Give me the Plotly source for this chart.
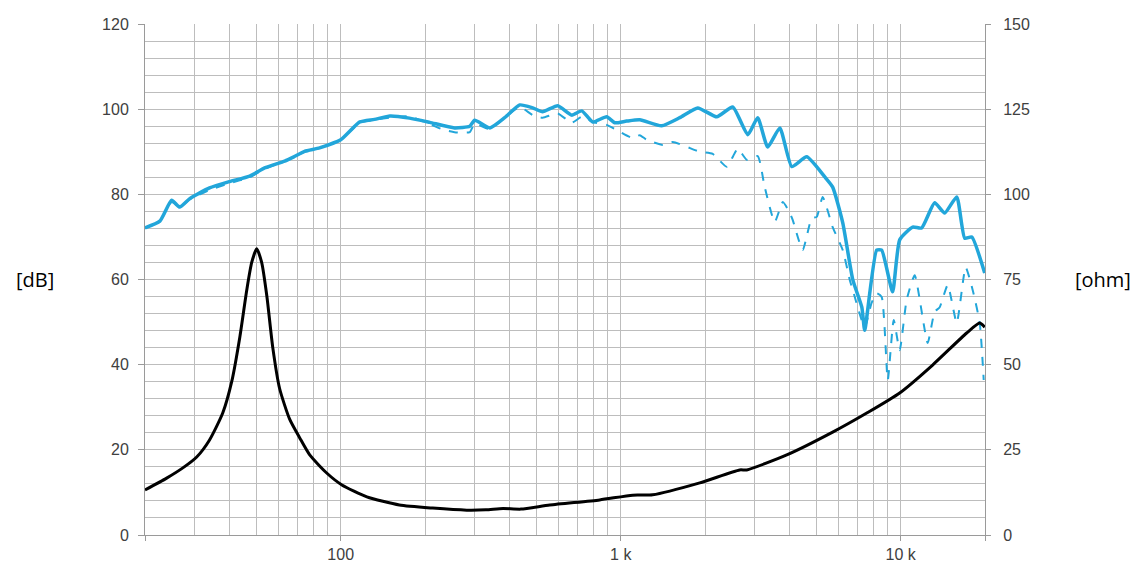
import plotly.graph_objects as go

# ---- data ----
spl_freq = [20, 22.6, 24.9, 26.6, 28.9, 34, 40.1, 47.3, 53.5, 63.1, 68, 74.3, 84.1, 100, 117, 132,
            150, 176, 208, 255, 289, 301, 341, 385, 436, 485, 526, 596, 668, 726, 794, 891, 952,
            1050, 1170, 1400, 1625, 1884, 2203, 2512, 2844, 3085, 3350, 3700, 4083, 4616, 5355,
            5715, 6209, 6745, 7262, 7436, 8204, 8551, 9354, 9915, 11030, 11880, 13220, 14350,
            15850, 16930, 17940, 19950]
spl_db = [72.1, 73.7, 78.6, 77.0, 79.0, 81.5, 83.0, 84.3, 86.2, 87.8, 88.8, 90.1, 90.9, 92.8, 97.0, 97.6,
          98.4, 97.9, 96.9, 95.6, 96.0, 97.4, 95.6, 98.0, 101.0, 100.3, 99.4, 100.8, 98.6, 99.6, 97.0,
          98.2, 96.8, 97.2, 97.5, 96.1, 98.0, 100.3, 98.2, 100.5, 94.0, 98.0, 91.1, 95.6, 86.5,
          88.8, 84.1, 81.7, 73.3, 59.9, 53.5, 48.1, 66.9, 66.9, 57.1, 69.3, 72.3, 72.1, 78.0,
          75.6, 79.4, 69.7, 70.0, 61.5]

off_freq = [20, 22.6, 24.9, 26.6, 28.9, 34, 40.1, 47.3, 53.5, 63.1, 68, 74.3, 84.1, 100, 117, 132,
            150, 176, 208, 230, 255, 289, 301, 341, 385, 436, 485, 526, 596, 668, 726, 794, 891,
            968, 1104, 1170, 1239, 1413, 1535, 1916, 2131, 2391, 2619, 2820, 3085, 3268, 3548,
            3793, 4018, 4113, 4467, 4810, 5012, 5265, 5715, 6209, 6577, 6745, 7436, 7870, 8204,
            8551, 8990, 9441, 9915, 10500, 11220, 12480, 13220, 13780, 14720, 15850, 17060,
            18080, 19150, 19790]
off_db = [72.1, 73.7, 78.2, 77.0, 78.8, 81.0, 82.6, 84.0, 86.0, 87.8, 88.8, 90.0, 90.9, 92.8, 96.8, 97.5,
          98.0, 98.3, 96.5, 95.3, 94.6, 94.6, 96.6, 95.3, 98.0, 100.5, 98.6, 98.0, 99.0, 96.8, 98.2,
          97.0, 96.3, 95.1, 93.2, 93.9, 92.8, 91.6, 92.3, 90.0, 89.5, 86.5, 90.7, 88.1, 89.0,
          81.7, 73.5, 78.2, 75.6, 74.0, 66.9, 74.4, 74.7, 79.4, 72.3, 66.9, 59.9, 57.5, 48.8,
          54.5, 56.8, 55.9, 36.4, 50.5, 43.4, 55.2, 61.0, 45.1, 52.4, 53.5, 58.7, 49.8, 62.9,
          57.5, 49.8, 36.4]

imp_freq = [20, 23.9, 27.3, 30.6, 34, 37.9, 40.8, 43.6, 46.2, 48.1, 50.1, 52.2, 54.5, 57.2, 60.5,
            65.7, 71.4, 77.5, 89.1, 101, 124, 162, 213, 282, 330, 380, 440, 558, 841, 1104, 1300,
            1916, 2661, 2820, 3917, 5715, 7563, 9915, 13000, 17200, 19150, 19950]
imp_ohm = [13.2, 16.7, 19.7, 22.9, 27.9, 35.8, 45.0, 58.0, 72.0, 80.0, 84.0, 80.0, 70.0, 55.0, 43.0,
           34.0, 28.5, 23.5, 18.2, 14.7, 11.2, 8.8, 7.9, 7.3, 7.4, 7.8, 7.6, 8.8, 10.3, 11.7, 11.8,
           15.3, 19.1, 19.1, 23.5, 30.2, 35.8, 41.7, 49.9, 59.3, 62.2, 61.0]

x_ticks = [20, 100, 1000, 10000, 20000]
x_ticktext = ["", "100", "1 k", "10 k", ""]
x_grid = [20, 30, 40, 50, 60, 70, 80, 90, 100, 200, 300, 400, 500, 600, 700, 800, 900,
          1000, 2000, 3000, 4000, 5000, 6000, 7000, 8000, 9000, 10000, 20000]

BLUE = "#22a6da"
GRID = "#bdbdbd"
AXIS = "#9a9a9a"

fig = go.Figure()
fig.add_trace(go.Scatter(x=off_freq, y=off_db, mode="lines",
                         line=dict(color=BLUE, width=2, dash="dash", shape="spline", smoothing=0.5),
                         showlegend=False, hoverinfo="skip"))
fig.add_trace(go.Scatter(x=spl_freq, y=spl_db, mode="lines",
                         line=dict(color=BLUE, width=3.5, shape="spline", smoothing=0.5),
                         showlegend=False))
fig.add_trace(go.Scatter(x=imp_freq, y=imp_ohm, mode="lines", yaxis="y2",
                         line=dict(color="black", width=3, shape="spline", smoothing=0.6),
                         showlegend=False))

tickfont = dict(family="Liberation Sans, Arial, sans-serif", size=16, color="#404040")

# page body has an 8px margin: compensate so the plot area sits at x 145..985, y 24..535
fig.update_layout(
    width=1136, height=554,
    margin=dict(l=137, r=159, t=16, b=27, autoexpand=False),
    paper_bgcolor="white", plot_bgcolor="white",
    xaxis=dict(type="log", range=[1.30103, 4.30103], automargin=False,
               tickmode="array", tickvals=x_ticks, ticktext=x_ticktext,
               showgrid=True, gridcolor=GRID, gridwidth=1,
               minor=dict(tickmode="array", tickvals=x_grid, showgrid=True,
                          gridcolor=GRID, gridwidth=1, ticks=""),
               showline=True, linecolor=AXIS, linewidth=1,
               ticks="outside", ticklen=5, tickcolor=AXIS,
               tickfont=tickfont, zeroline=False),
    yaxis=dict(range=[0, 120], tickmode="linear", tick0=0, dtick=20, automargin=False,
               showgrid=True, gridcolor=GRID, gridwidth=1,
               minor=dict(dtick=4, showgrid=True, gridcolor=GRID, gridwidth=1),
               showline=True, linecolor=AXIS, linewidth=1,
               ticks="outside", ticklen=6, tickcolor=AXIS,
               ticklabelstandoff=6,
               tickfont=tickfont, zeroline=False),
    yaxis2=dict(range=[0, 150], overlaying="y", side="right", tickmode="linear", tick0=0,
                dtick=25, showgrid=False, showline=True, linecolor=AXIS, automargin=False,
                ticks="outside", ticklen=5, tickcolor=AXIS,
                ticklabelstandoff=9,
                tickfont=tickfont, zeroline=False),
    annotations=[
        dict(text="[dB]", xref="paper", yref="paper", x=-0.131, y=0.50, showarrow=False,
             xanchor="center", yanchor="middle",
             font=dict(family="Open Sans, sans-serif", size=20, color="black")),
        dict(text="[ohm]", xref="paper", yref="paper", x=1.141, y=0.50, showarrow=False,
             xanchor="center", yanchor="middle",
             font=dict(family="Open Sans, sans-serif", size=20, color="black")),
    ],
)

fig.write_html("out.html")
